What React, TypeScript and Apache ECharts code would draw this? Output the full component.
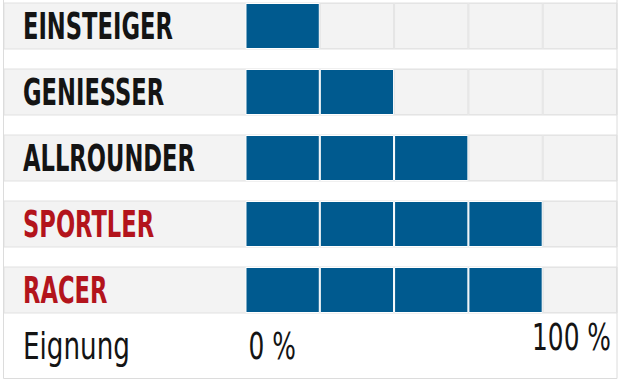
import React, { useEffect, useRef } from "react";
import * as echarts from "echarts";

const categories = ["EINSTEIGER", "GENIESSER", "ALLROUNDER", "SPORTLER", "RACER"];
const scores = [1, 2, 3, 4, 4]; // filled fields out of 5
const highlighted = [false, false, false, true, true];
const fieldCount = 5;
const scaleLabels = ["0 %", "100 %"];
const axisTitle = "Eignung";

const BLUE = "#005a8f";
const RED = "#b3141c";
const DARK = "#141414";
const BAND = "#f3f3f3";
const BAND_LINE = "#e1e1e1";

const BOLD_FONT = 'bold 38px "Liberation Sans Narrow", "DejaVu Sans Condensed", "Roboto Condensed", sans-serif';
const REG_FONT = '37px "Liberation Sans Narrow", "DejaVu Sans Condensed", "Roboto Condensed", sans-serif';

function measure(text: string, font: string): number {
  const ctx = document.createElement("canvas").getContext("2d");
  if (!ctx) return text.length * 15;
  ctx.font = font;
  return ctx.measureText(text).width;
}

export default function App() {
  const ref = useRef<HTMLDivElement>(null);

  useEffect(() => {
    document.body.style.margin = "0";
    if (!ref.current) return;
    const chart = echarts.init(ref.current, null, { renderer: "svg" });

    const series: any[] = [];
    for (let j = 0; j < fieldCount; j++) {
      series.push({
        name: "Feld " + (j + 1),
        type: "bar",
        stack: "eignung",
        barWidth: 46,
        showBackground: j === 0,
        backgroundStyle: { color: BAND, borderColor: BAND_LINE, borderWidth: 1 },
        data: scores.map((s) => ({
          value: 1,
          itemStyle:
            s > j
              ? { color: BLUE, borderColor: "#ffffff", borderWidth: 1 }
              : { color: "rgba(0,0,0,0)", borderColor: "#e4e4e4", borderWidth: 1 },
        })),
        silent: true,
      });
    }

    chart.setOption({
      animation: false,
      grid: { left: 4, right: 3, top: 26, height: 264 },
      xAxis: { type: "value", min: -3.25, max: fieldCount, show: false },
      yAxis: { type: "category", data: categories, inverse: true, show: false, boundaryGap: false },
      series,
    });

    const boldScale = 150 / measure("EINSTEIGER", BOLD_FONT);
    const regScale = 79 / measure(scaleLabels[1], REG_FONT);
    const titleScale = 107 / measure(axisTitle, REG_FONT);

    const x0 = chart.convertToPixel({ xAxisIndex: 0 }, 0) as number;
    const x5 = chart.convertToPixel({ xAxisIndex: 0 }, fieldCount) as number;

    const graphic: any[] = [
      {
        type: "rect",
        silent: true,
        z: 20,
        shape: { x: 3.5, y: -1, width: 613.5, height: 379.5 },
        style: { fill: "none", stroke: "#dcdcdc", lineWidth: 1 },
      },
    ];
    categories.forEach((c, i) => {
      const y = chart.convertToPixel({ yAxisIndex: 0 }, i) as number;
      graphic.push({
        type: "text",
        x: 23,
        y: y + 0.5,
        z: 20,
        scaleX: boldScale,
        silent: true,
        style: {
          text: c,
          font: BOLD_FONT,
          fill: highlighted[i] ? RED : DARK,
          align: "left",
          verticalAlign: "middle",
        },
      });
    });
    graphic.push({
      type: "text",
      x: 23,
      y: 346,
      z: 20,
      scaleX: titleScale,
      silent: true,
      style: { text: axisTitle, font: REG_FONT, fill: DARK, align: "left", verticalAlign: "middle" },
    });
    graphic.push({
      type: "text",
      x: x0 + 3,
      y: 347,
      z: 20,
      scaleX: regScale,
      silent: true,
      style: { text: scaleLabels[0], font: REG_FONT, fill: DARK, align: "left", verticalAlign: "middle" },
    });
    graphic.push({
      type: "text",
      x: x5 - 6,
      y: 338,
      z: 20,
      scaleX: regScale,
      silent: true,
      style: { text: scaleLabels[1], font: REG_FONT, fill: DARK, align: "right", verticalAlign: "middle" },
    });
    chart.setOption({ graphic });

    return () => chart.dispose();
  }, []);

  return <div ref={ref} style={{ width: 620, height: 381 }} />;
}
